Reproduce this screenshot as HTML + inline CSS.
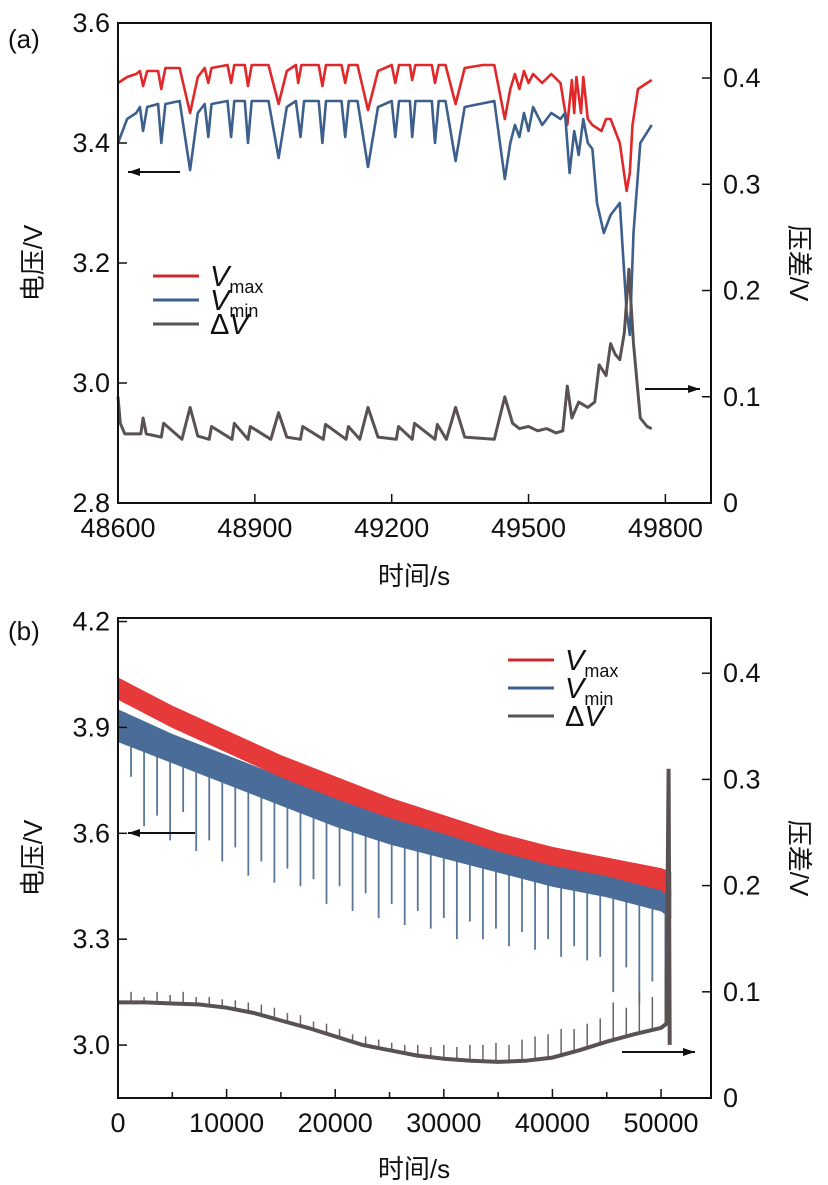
<!DOCTYPE html>
<html><head><meta charset="utf-8">
<style>
html,body{margin:0;padding:0;background:#fff;}
svg{display:block;}
text{font-family:"Liberation Sans","Noto Sans CJK SC",sans-serif;fill:#111;}
</style></head>
<body>
<svg id="fig" width="828" height="1185" viewBox="0 0 828 1185" xmlns="http://www.w3.org/2000/svg"></svg>
<script>
// ---------- Panel (a) data ----------
const aTimeMax = [48600,48620,48640,48648,48655,48664,48688,48695,48704,48735,48758,48775,48790,48798,48805,48840,48848,48855,48878,48885,48893,48930,48952,48970,48990,48995,49002,49040,49048,49056,49090,49098,49106,49125,49148,49170,49200,49208,49216,49240,49245,49252,49288,49295,49303,49318,49340,49360,49400,49425,49448,49460,49470,49480,49490,49500,49510,49530,49550,49570,49585,49595,49600,49605,49615,49620,49630,49640,49660,49670,49680,49690,49700,49715,49722,49728,49740,49760,49770];
const aVmax = [3.50,3.51,3.515,3.52,3.495,3.52,3.52,3.49,3.525,3.525,3.45,3.51,3.525,3.50,3.525,3.53,3.50,3.53,3.53,3.495,3.53,3.53,3.465,3.52,3.53,3.50,3.53,3.53,3.495,3.53,3.53,3.50,3.53,3.53,3.455,3.52,3.53,3.50,3.53,3.53,3.505,3.53,3.53,3.50,3.53,3.53,3.465,3.525,3.53,3.53,3.44,3.49,3.515,3.49,3.52,3.50,3.515,3.50,3.515,3.50,3.43,3.505,3.45,3.51,3.45,3.51,3.44,3.43,3.42,3.44,3.44,3.42,3.40,3.32,3.35,3.43,3.49,3.50,3.505];
const aTimeMin = [48600,48620,48640,48648,48655,48664,48688,48695,48704,48735,48758,48775,48790,48798,48805,48840,48848,48855,48878,48885,48893,48930,48952,48970,48990,49000,49008,49040,49048,49056,49090,49098,49106,49125,49148,49170,49200,49208,49216,49240,49245,49252,49288,49295,49303,49318,49340,49360,49425,49448,49460,49470,49480,49490,49500,49510,49530,49550,49570,49580,49590,49600,49610,49620,49630,49640,49650,49665,49680,49700,49715,49722,49730,49745,49770];
const aVmin = [3.40,3.44,3.45,3.46,3.42,3.46,3.465,3.40,3.465,3.47,3.355,3.45,3.465,3.41,3.465,3.47,3.41,3.47,3.47,3.40,3.47,3.47,3.375,3.46,3.47,3.41,3.47,3.47,3.40,3.47,3.47,3.41,3.47,3.47,3.36,3.46,3.47,3.41,3.47,3.47,3.41,3.47,3.47,3.40,3.47,3.47,3.37,3.46,3.47,3.34,3.40,3.43,3.41,3.45,3.42,3.46,3.43,3.45,3.44,3.45,3.35,3.42,3.38,3.44,3.40,3.39,3.30,3.25,3.28,3.30,3.12,3.08,3.25,3.40,3.43];
const aTimeDV = [48600,48605,48615,48650,48655,48662,48695,48700,48740,48758,48775,48800,48805,48850,48855,48885,48890,48935,48952,48970,49000,49005,49050,49055,49100,49105,49130,49148,49170,49210,49215,49245,49250,49295,49300,49320,49340,49360,49425,49448,49465,49480,49500,49520,49540,49560,49575,49585,49595,49610,49630,49645,49655,49670,49680,49690,49700,49710,49720,49730,49745,49760,49770];
const aDV = [0.10,0.075,0.065,0.065,0.08,0.065,0.062,0.075,0.06,0.09,0.063,0.06,0.072,0.06,0.075,0.06,0.072,0.06,0.085,0.062,0.06,0.072,0.06,0.074,0.06,0.072,0.06,0.09,0.062,0.06,0.072,0.06,0.075,0.06,0.074,0.06,0.09,0.062,0.06,0.10,0.075,0.07,0.072,0.068,0.07,0.066,0.068,0.11,0.08,0.095,0.09,0.095,0.13,0.12,0.15,0.14,0.135,0.16,0.22,0.15,0.08,0.072,0.07];
const aXTicks = [48600,48900,49200,49500,49800];
const aYTicks = [2.8,3.0,3.2,3.4,3.6];
const aRTicks = [0,0.1,0.2,0.3,0.4];

// ---------- Panel (b) data ----------
const bEnvTime = [0,5000,10000,15000,20000,25000,30000,35000,40000,45000,50000,50900];
const bVmaxTop = [4.04,3.96,3.89,3.82,3.76,3.70,3.65,3.60,3.56,3.53,3.50,3.49];
const bVmaxBot = [3.98,3.90,3.83,3.76,3.70,3.645,3.60,3.55,3.51,3.48,3.44,3.42];
const bVminTop = [3.95,3.88,3.82,3.76,3.70,3.65,3.60,3.56,3.52,3.49,3.46,3.44];
const bVminBot = [3.86,3.80,3.74,3.68,3.62,3.57,3.53,3.49,3.45,3.42,3.38,3.36];
const bSpikeTime = [1200,2400,3600,4800,6000,7200,8400,9600,10800,12000,13200,14400,15600,16800,18000,19200,20400,21600,22800,24000,25200,26400,27600,28800,30000,31200,32400,33600,34800,36000,37200,38400,39600,40800,42000,43200,44400,45600,46800,48000,49200,50400];
const bSpikeTip = [3.76,3.62,3.65,3.58,3.66,3.55,3.58,3.52,3.56,3.48,3.52,3.46,3.50,3.45,3.47,3.40,3.45,3.38,3.43,3.36,3.40,3.34,3.38,3.33,3.36,3.30,3.35,3.30,3.33,3.28,3.32,3.27,3.30,3.25,3.28,3.24,3.25,3.15,3.22,3.12,3.18,3.10];
const bDVSpike = [0.10,0.095,0.10,0.097,0.10,0.095,0.095,0.093,0.092,0.09,0.088,0.085,0.08,0.078,0.072,0.07,0.065,0.06,0.058,0.055,0.052,0.05,0.05,0.048,0.05,0.048,0.05,0.05,0.052,0.05,0.055,0.058,0.06,0.065,0.065,0.07,0.075,0.09,0.085,0.10,0.095,0.12];
const bDVTime = [0,2500,5000,7500,10000,12500,15000,17500,20000,22500,25000,27500,30000,32500,35000,37500,40000,42500,45000,47500,50000,50500,50700,50800];
const bDV = [0.09,0.09,0.089,0.088,0.085,0.08,0.073,0.066,0.058,0.05,0.045,0.04,0.037,0.035,0.034,0.035,0.038,0.045,0.053,0.06,0.066,0.07,0.31,0.05];
const bXTicks = [0,10000,20000,30000,40000,50000];
const bYTicks = [3.0,3.3,3.6,3.9,4.2];
const bRTicks = [0,0.1,0.2,0.3,0.4];

const NS = "http://www.w3.org/2000/svg";
const svg = document.getElementById('fig');
function mk(tag, attrs, parent){
  const e = document.createElementNS(NS, tag);
  for (const k in attrs) e.setAttribute(k, attrs[k]);
  (parent||svg).appendChild(e);
  return e;
}
function pathFrom(xs, ys, sx, sy){
  return xs.map((t,i)=>(i?'L':'M')+sx(t).toFixed(1)+','+sy(ys[i]).toFixed(1)).join('');
}
function interp(xs, ys, t){
  let j = xs.findIndex(e=>e>=t); if (j<1) j=1;
  const f = (t-xs[j-1])/(xs[j]-xs[j-1]);
  return ys[j-1]+(ys[j]-ys[j-1])*f;
}
function arrow(x1,x2,y,name){
  const g = mk('g',{});
  
  
  mk('line',{x1:x1,y1:y,x2:x2,y2:y,stroke:'#111','stroke-width':2},g);
  const d = x2>x1 ? 1 : -1;
  mk('polygon',{points:`${x2},${y} ${x2-d*12},${y-4} ${x2-d*12},${y+4}`,fill:'#111'},g);
}
function text(x,y,s,attrs,name){
  const t = mk('text',Object.assign({x:x,y:y},attrs||{}));
  t.textContent = s;
  
  
  return t;
}

function panel(o){
  const {L,R,T,B,x0,x1,y0,y1,r0,r1} = o;
  const sx = v => L + (v-x0)/(x1-x0)*(R-L);
  const sy = v => B - (v-y0)/(y1-y0)*(B-T);
  const sr = v => B - (v-r0)/(r1-r0)*(B-T);
  const g = mk('g',{});
  
  
  o.draw(g, sx, sy, sr);
  const frame = mk('rect',{x:L,y:T,width:R-L,height:B-T,fill:'none',stroke:'#111','stroke-width':2},g);
  
  
  o.xTicks.forEach(v=>{
    mk('line',{x1:sx(v),y1:B,x2:sx(v),y2:B-9,stroke:'#111','stroke-width':1.5},g);
    text(sx(v), B+34, String(v), {'text-anchor':'middle','font-size':27}, 'x-tick-label');
  });
  (o.xMinor||[]).forEach(v=>{
    mk('line',{x1:sx(v),y1:B,x2:sx(v),y2:B-6,stroke:'#111','stroke-width':1.5},g);
  });
  o.yTicks.forEach(v=>{
    mk('line',{x1:L,y1:sy(v),x2:L+9,y2:sy(v),stroke:'#111','stroke-width':1.5},g);
    text(L-8, sy(v)+9, v.toFixed(1), {'text-anchor':'end','font-size':27}, 'y-tick-label');
  });
  o.rTicks.forEach(v=>{
    mk('line',{x1:R,y1:sr(v),x2:R-9,y2:sr(v),stroke:'#111','stroke-width':1.5},g);
    text(R+12, sr(v)+9, v===0?'0':v.toFixed(1), {'font-size':27}, 'right-tick-label');
  });
}

// ===== Panel (a) =====
panel({name:'panel-a',L:118,R:711,T:23,B:503,x0:48600,x1:49900,y0:2.8,y1:3.6,r0:0,r1:0.4518,
  xTicks:aXTicks,yTicks:aYTicks,rTicks:aRTicks,
  draw:(g,sx,sy,sr)=>{
    const p1 = mk('path',{d:pathFrom(aTimeMax,aVmax,sx,sy),fill:'none',stroke:'#e0282a','stroke-width':2.6,'stroke-linejoin':'round'},g);
     
    const p2 = mk('path',{d:pathFrom(aTimeMin,aVmin,sx,sy),fill:'none',stroke:'#3c5f8c','stroke-width':2.6,'stroke-linejoin':'round'},g);
     
    const p3 = mk('path',{d:pathFrom(aTimeDV,aDV,sx,sr),fill:'none',stroke:'#5a5252','stroke-width':3,'stroke-linejoin':'round'},g);
     
  }});
// ===== Panel (b) =====
panel({name:'panel-b',L:118,R:711,T:618,B:1098,x0:0,x1:54600,y0:2.85,y1:4.21,r0:0,r1:0.452,
  xTicks:bXTicks,xMinor:[5000,15000,25000,35000,45000],yTicks:bYTicks,rTicks:bRTicks,
  draw:(g,sx,sy,sr)=>{
    bSpikeTime.forEach((t,i)=>{
      const bot = interp(bEnvTime,bVminBot,t);
      const s = mk('line',{x1:sx(t),y1:sy(bot),x2:sx(t),y2:sy(bSpikeTip[i]),stroke:'#5a7799','stroke-width':1.8},g);
       
    });
    const band = (top,bot,col,nm)=>{
      const d = pathFrom(bEnvTime,top,sx,sy) + pathFrom(bEnvTime.slice().reverse(),bot.slice().reverse(),sx,sy).replace(/^M/,'L') + 'Z';
      const p = mk('path',{d:d,fill:col,stroke:col,'stroke-width':1},g);
       
    };
    band(bVminTop,bVminBot,'#4a6c98','series-vmin-b');
    band(bVmaxTop,bVmaxBot,'#e5393a','series-vmax-b');
    bSpikeTime.forEach((t,i)=>{
      const base = interp(bDVTime,bDV,t);
      const s = mk('line',{x1:sx(t),y1:sr(base),x2:sx(t),y2:sr(bDVSpike[i]),stroke:'#6b6262','stroke-width':1.5},g);
       
    });
    const p3 = mk('path',{d:pathFrom(bDVTime,bDV,sx,sr),fill:'none',stroke:'#5a5252','stroke-width':4},g);
     
  }});

// Labels
text(8,48,'(a)',{'font-size':26},'panel-label-a');
text(8,640,'(b)',{'font-size':26},'panel-label-b');
text(414,585,'时间/s',{'text-anchor':'middle','font-size':26},'x-axis-title-a');
text(414,1178,'时间/s',{'text-anchor':'middle','font-size':26},'x-axis-title-b');
text(0,0,'电压/V',{'text-anchor':'middle','font-size':26,transform:'translate(42,263) rotate(-90)'},'y-axis-title-a');
text(0,0,'电压/V',{'text-anchor':'middle','font-size':26,transform:'translate(42,858) rotate(-90)'},'y-axis-title-b');
text(0,0,'压差/V',{'text-anchor':'middle','font-size':26,transform:'translate(790,263) rotate(90)'},'right-axis-title-a');
text(0,0,'压差/V',{'text-anchor':'middle','font-size':26,transform:'translate(790,858) rotate(90)'},'right-axis-title-b');

arrow(180,128,172,'arrow-left-axis-a');
arrow(645,700,389,'arrow-right-axis-a');
arrow(195,128,833,'arrow-left-axis-b');
arrow(622,695,1052,'arrow-right-axis-b');

// Legends
function legend(x,y,dy,name){
  const g = mk('g',{});
  
  
  const items = [['#d0282a','max'],['#3c5f8c','min'],['#5a5252','']];
  items.forEach((it,i)=>{
    const yy = y+i*dy;
    mk('line',{x1:x,y1:yy,x2:x+46,y2:yy,stroke:it[0],'stroke-width':3},g);
    const t = mk('text',{x:x+57,y:yy+10,'font-size':29},g);
    
    
    if (it[1]) {
      const v = mk('tspan',{'font-style':'italic'},t); v.textContent='V';
      const s = mk('tspan',{'font-size':18,dy:7},t); s.textContent=it[1];
    } else {
      const d = mk('tspan',{},t); d.textContent='Δ';
      const v = mk('tspan',{'font-style':'italic'},t); v.textContent='V';
    }
  });
}
legend(153,276,24,'legend-a');
legend(508,660,28,'legend-b');
</script>
</body></html>
